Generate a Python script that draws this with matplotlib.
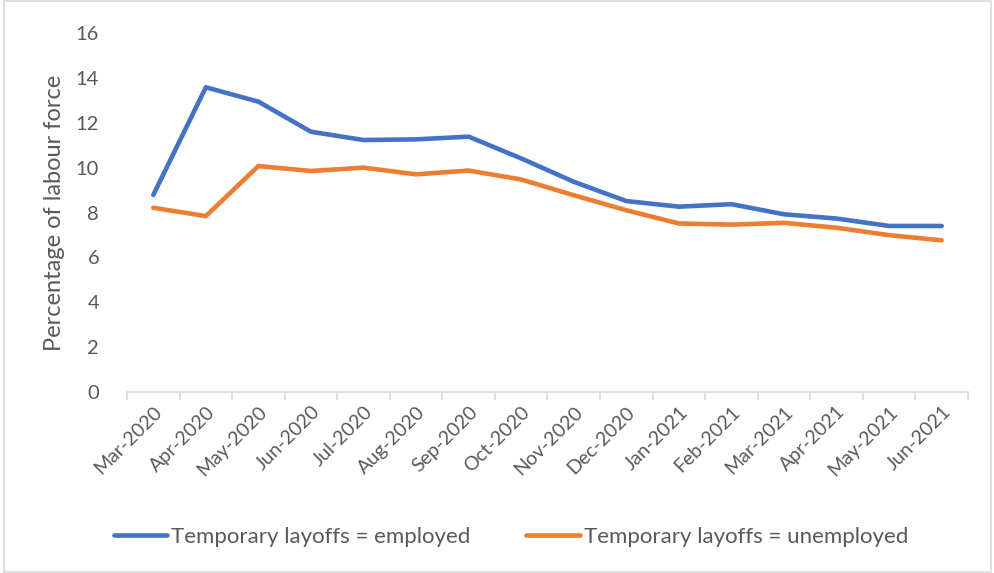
import matplotlib
matplotlib.use("Agg")
import matplotlib.pyplot as plt
from matplotlib.patches import Rectangle

months = ["Mar-2020", "Apr-2020", "May-2020", "Jun-2020", "Jul-2020", "Aug-2020",
          "Sep-2020", "Oct-2020", "Nov-2020", "Dec-2020", "Jan-2021", "Feb-2021",
          "Mar-2021", "Apr-2021", "May-2021", "Jun-2021"]
employed = [8.78, 13.58, 12.94, 11.60, 11.23, 11.26, 11.38, 10.41, 9.37, 8.51,
            8.26, 8.37, 7.92, 7.73, 7.40, 7.40]
unemployed = [8.21, 7.84, 10.07, 9.85, 10.00, 9.70, 9.87, 9.47, 8.77, 8.10,
              7.51, 7.46, 7.54, 7.32, 6.99, 6.76]
yticks = [0, 2, 4, 6, 8, 10, 12, 14, 16]

plt.rcParams['font.family'] = ['Lato', 'DejaVu Sans']

fig = plt.figure(figsize=(9.95, 5.73), dpi=100)
W, H = 995, 573
ax = fig.add_axes([127 / W, 1 - 392 / H, (968 - 127) / W, (392 - 33) / H])

x = list(range(len(months)))
ax.plot(x, employed, color="#4472C4", lw=3.3, solid_capstyle="round",
        label="Temporary layoffs = employed")
ax.plot(x, unemployed, color="#ED7D31", lw=3.3, solid_capstyle="round",
        label="Temporary layoffs = unemployed")

ax.set_xlim(-0.5, len(months) - 0.5)
ax.set_ylim(0, 16)
ax.set_yticks(yticks)
ax.set_yticklabels([str(t) for t in yticks], fontsize=14.5, color="#595959")
ax.tick_params(axis="y", length=0, pad=20)

ax.set_xticks([i - 0.5 for i in range(len(months) + 1)], minor=False)
ax.set_xticklabels([""] * (len(months) + 1))
ax.tick_params(axis="x", length=6, color="#D9D9D9", width=1.2)
ax.set_xticks(x, minor=True)
ax.set_xticklabels(months, minor=True, rotation=45, ha="right",
                   rotation_mode="anchor", fontsize=14, color="#595959")
ax.tick_params(axis="x", which="minor", length=0, pad=8)

for s in ["top", "right", "left"]:
    ax.spines[s].set_visible(False)
ax.spines["bottom"].set_color("#D9D9D9")
ax.spines["bottom"].set_linewidth(1.2)

ax.set_ylabel("Percentage of labour force", fontsize=17, color="#595959", labelpad=8)

fig.legend(loc="center", bbox_to_anchor=(511 / W, 1 - 537 / H), ncol=2,
           frameon=False, fontsize=16, labelcolor="#595959",
           handlelength=2.4, handletextpad=0.2, columnspacing=2.5)

fig.patches.append(Rectangle((0.004, 0.002), 0.992, 0.996, transform=fig.transFigure,
                             fill=False, edgecolor="#D9D9D9", lw=1.2))

fig.savefig("out.png", dpi=100)
